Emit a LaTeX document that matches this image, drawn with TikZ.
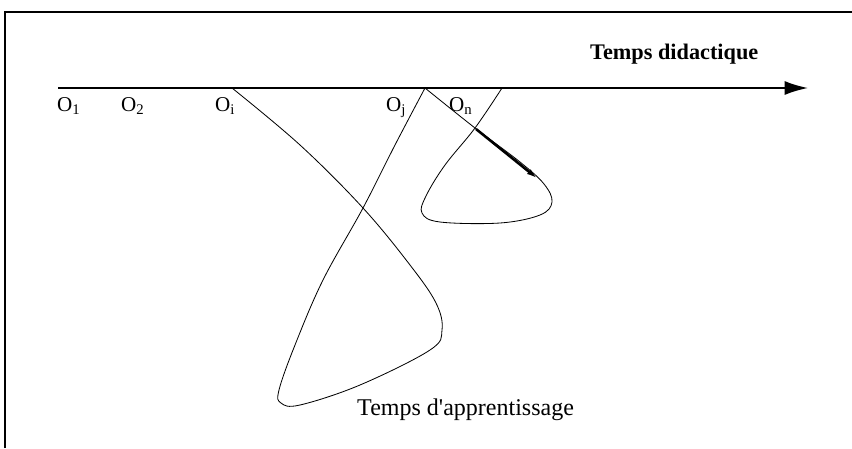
\documentclass[tikz,border=0pt]{standalone}
\usepackage{fontspec}
\setmainfont{Liberation Serif}
\usepackage{tikz}
\usetikzlibrary{calc, arrows.meta, positioning}

\begin{document}
\begin{tikzpicture}[x=0.03cm, y=-0.03cm, >=latex]
    \useasboundingbox (0,0) rectangle (852,448);
    \tikzset{
        etiq/.style={anchor=base west, inner sep=0pt, font=\fontsize{18}{21}\selectfont},
        titre/.style={anchor=base west, inner sep=0pt, font=\fontsize{19}{22}\selectfont},
        courbe/.style={black, line width=0.7pt, smooth, tension=0.6}
    }
    % 1. Cadre (bords gauche et haut)
    \draw[black, line width=1.2pt] (5,448) -- (5,12) -- (852,12);

    % 2. Axe du temps didactique
    \coordinate (debut) at (58,88);
    \coordinate (fin) at (808,88);
    \draw[-{Latex[length=20pt,width=12pt]}, black, line width=1.5pt] (debut) -- (fin);
    \node[titre, font=\fontsize{19}{22}\selectfont\bfseries] (td) at (590,59) {Temps didactique};

    % Les points O sur l'axe
    \coordinate (Oi) at (232,88);
    \coordinate (Oj) at (425,88);
    \coordinate (On) at (502,88);
    \node[etiq] (o1) at (57,111) {O\textsubscript{1}};
    \node[etiq] (o2) at (121,111) {O\textsubscript{2}};
    \node[etiq] (oi) at (215,111) {O\textsubscript{i}};
    \node[etiq] (oj) at (386,111) {O\textsubscript{j}};
    \node[etiq] (on) at (449,111) {O\textsubscript{n}};

    % 3. Grande boucle de O_i vers O_j
    \draw[courbe] plot coordinates {(Oi) (300,145) (363,208) (410,265) (436,303)
        (442,330) (430,350) (360,385) (300,405) (281,403) (279,390) (295,345)
        (323,280) (363,208) (395,145) (Oj)};

    % 4. Petite boucle de O_j vers O_n
    \draw[courbe] plot coordinates {(Oj) (475,128) (520,162) (544,184) (552,202)
        (540,215) (500,223) (440,222) (422,213) (426,196) (445,165) (475,128) (On)};

    % Fleche epaisse
    \coordinate (croise) at (476,129);
    \coordinate (pointe) at (538,179);
    \draw[-{Latex[length=10pt,width=5pt]}, black, line width=2.2pt] (croise) -- (pointe);

    \node[titre, font=\fontsize{20.5}{24}\selectfont] (ta) at (357,415) {Temps d\textquotesingle apprentissage};
\end{tikzpicture}
\end{document}
